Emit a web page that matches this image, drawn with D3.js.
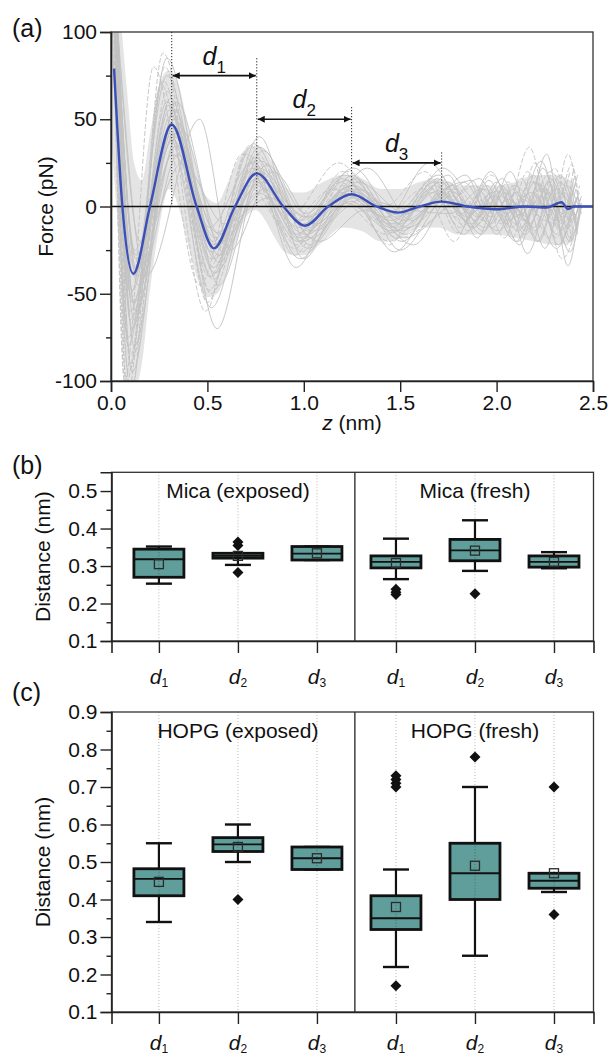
<!DOCTYPE html>
<html><head><meta charset="utf-8">
<script src="https://cdn.jsdelivr.net/npm/d3@7"></script>
<style>
body{margin:0;background:#fff}
svg{display:block}
text{font-family:"Liberation Sans",Arial,Helvetica,sans-serif;fill:#111}
</style>
</head><body>
<svg id="chart" width="610" height="1059"></svg>
<script>
// ---------------- DATA ----------------
// Panel (a): force curves
const zTicks = [0, 0.5, 1.0, 1.5, 2.0, 2.5];
const forceTicks = [-100, -50, 0, 50, 100];
const forceMinorTicks = [-75, -25, 25, 75];

const meanCurve = [[0.016,79],[0.059,0],[0.116,-38.5],[0.202,0],[0.315,47],[0.444,0],[0.534,-24],
  [0.643,0],[0.756,19],[0.894,0],[1.006,-11],[1.127,0],[1.248,7],[1.378,0],[1.49,-3.5],[1.60,0],
  [1.715,2.8],[1.85,0],[2.0,-1.6],[2.15,0],[2.26,-0.6],[2.337,2.4],[2.37,-1.5],[2.40,0],[2.5,0]];

// dense core of the individual curves (upper / lower bounds)
const cloudZ =     [0.00,0.04,0.08,0.12,0.16,0.20,0.25,0.30,0.35,0.40,0.45,0.50,0.55,0.60,0.65,0.70,0.75,0.80,0.85,0.90,0.95,1.00,1.10,1.20,1.30,1.40,1.50,1.60,1.70,1.80,1.90,2.00,2.10,2.20,2.30,2.40];
const cloudUpper = [110,110,70,25,15,40,70,78,70,45,18,5,2,12,25,33,35,32,22,12,8,8,14,18,16,10,10,14,16,12,12,12,14,18,18,14];
const cloudLower = [40,-20,-104,-105,-90,-50,-12,10,0,-22,-42,-52,-50,-38,-20,-6,-2,-8,-18,-26,-28,-28,-20,-12,-14,-20,-18,-12,-12,-16,-16,-16,-18,-20,-22,-20];

const grayCurves = [
  [[0,160],[0.10,-60],[0.31,62],[0.53,-35],[0.75,28],[0.98,-18],[1.24,12],[1.47,-10],[1.70,9],[1.85,-6],[1.98,8],[2.10,-10],[2.22,12],[2.33,-14],[2.42,5]],
  [[0.02,140],[0.12,-25],[0.33,40],[0.55,-15],[0.78,14],[1.02,-6],[1.27,10],[1.52,-8],[1.74,6],[1.88,-12],[2.02,6],[2.15,-16],[2.27,14],[2.38,-20],[2.44,0]],
  [[0,200],[0.09,-95],[0.28,80],[0.50,-55],[0.72,35],[0.95,-28],[1.20,20],[1.44,-22],[1.66,16],[1.82,-10],[1.95,12],[2.08,-18],[2.20,25],[2.34,-30],[2.43,-5]],
  [[0.03,110],[0.14,-45],[0.35,30],[0.57,-20],[0.80,10],[1.05,-14],[1.30,4],[1.55,-2],[1.76,-4],[1.92,10],[2.05,-4],[2.18,8],[2.30,-8],[2.40,10]],
  [[0.01,150],[0.11,-70],[0.30,55],[0.52,-40],[0.74,22],[0.97,-12],[1.22,15],[1.46,-15],[1.68,12],[1.84,-8],[1.96,15],[2.12,-22],[2.26,30],[2.37,-34],[2.43,0]],
  [[0.02,120],[0.13,-30],[0.37,25],[0.59,-10],[0.82,5],[1.08,-20],[1.32,-2],[1.57,-22],[1.78,8],[1.93,-14],[2.06,4],[2.19,-12],[2.31,10],[2.41,-6]],
  [[0,180],[0.08,-110],[0.26,70],[0.49,-60],[0.70,30],[0.93,-5],[1.18,25],[1.42,0],[1.63,20],[1.80,-15],[1.97,18],[2.14,-8],[2.28,20],[2.40,-15]],
  [[0.04,95],[0.15,-20],[0.34,35],[0.54,-30],[0.77,40],[1.00,-30],[1.25,18],[1.50,-25],[1.72,5],[1.87,15],[2.00,-16],[2.13,16],[2.25,-24],[2.36,12],[2.44,-4]],
  [[0.01,170],[0.12,-80],[0.32,45],[0.55,-70],[0.76,12],[0.99,-20],[1.26,5],[1.48,-12],[1.71,14],[1.86,-4],[1.99,6],[2.11,-14],[2.23,6],[2.33,-8],[2.41,14]],
  [[0.02,130],[0.10,-50],[0.29,75],[0.51,-12],[0.73,25],[0.96,-35],[1.19,8],[1.43,-6],[1.65,25],[1.81,2],[1.94,-12],[2.07,20],[2.21,-20],[2.32,8],[2.42,-8]],
  [[0,220],[0.07,-100],[0.22,80],[0.46,-45],[0.68,30],[0.90,-12],[1.15,10],[1.40,-8],[1.62,10],[1.78,-20],[1.91,4],[2.03,-10],[2.17,34],[2.29,-12],[2.39,24],[2.43,0]],
  [[0.05,80],[0.18,-40],[0.46,50],[0.62,-25],[0.84,20],[1.06,-10],[1.33,22],[1.56,-8],[1.77,12],[1.90,-6],[2.04,10],[2.16,-27],[2.30,16],[2.38,-18],[2.44,2]],
  [[0.01,190],[0.09,-120],[0.27,88],[0.52,-50],[0.74,18],[0.98,-8],[1.23,6],[1.49,-18],[1.73,-2],[1.89,12],[2.01,-8],[2.15,6],[2.27,-18],[2.37,30],[2.43,-2]],
  [[0.02,145],[0.11,-55],[0.33,50],[0.56,-28],[0.79,32],[1.03,-22],[1.28,14],[1.53,-4],[1.75,18],[1.90,-18],[2.02,12],[2.16,-6],[2.26,10],[2.36,-22],[2.43,4]],
  [[0.01,130],[0.12,-40],[0.31,52],[0.53,-22],[0.75,18],[0.99,-10],[1.24,9],[1.50,-5],[1.72,4],[1.87,-10],[2.00,9],[2.12,-5],[2.24,12],[2.34,-10],[2.42,6]],
  [[0.02,160],[0.10,-65],[0.30,42],[0.54,-38],[0.76,8],[1.01,-16],[1.25,3],[1.47,-26],[1.69,6],[1.83,14],[1.97,-6],[2.09,10],[2.20,-14],[2.33,18],[2.42,-12]],
  [[0.02,115],[0.12,-35],[0.32,38],[0.54,-18],[0.77,22],[1.00,-6],[1.26,12],[1.51,-14],[1.74,10],[1.88,-2],[2.01,-14],[2.14,4],[2.25,-8],[2.35,8],[2.42,-14]],
  [[0.01,135],[0.11,-48],[0.30,58],[0.52,-26],[0.74,15],[0.97,-20],[1.21,10],[1.45,-8],[1.67,8],[1.83,-16],[1.96,2],[2.10,-20],[2.22,4],[2.31,-16],[2.40,16]],
  [[0.03,105],[0.13,-28],[0.34,44],[0.56,-32],[0.78,26],[1.02,-14],[1.27,16],[1.52,-18],[1.76,2],[1.91,16],[2.05,-10],[2.18,14],[2.29,2],[2.38,-26],[2.44,0]],
  [[0,175],[0.10,-85],[0.29,66],[0.51,-48],[0.72,20],[0.95,-24],[1.19,14],[1.44,-20],[1.66,2],[1.80,10],[1.93,-8],[2.06,14],[2.19,-16],[2.30,22],[2.39,-20]],
  [[0,125],[0.09,-75],[0.29,60],[0.52,-30],[0.73,26],[0.96,-16],[1.20,16],[1.45,-12],[1.68,14],[1.82,-4],[1.94,10],[2.08,-12],[2.20,14],[2.32,-22],[2.41,10]],
  [[0.01,145],[0.13,-60],[0.33,55],[0.56,-45],[0.78,20],[1.02,-24],[1.27,6],[1.51,-20],[1.73,8],[1.87,-12],[2.00,14],[2.13,-12],[2.24,22],[2.34,-6],[2.43,8]],
  [[0.02,155],[0.10,-90],[0.31,48],[0.53,-42],[0.76,30],[0.99,-26],[1.23,20],[1.48,-6],[1.70,16],[1.85,-14],[1.99,-2],[2.11,-20],[2.23,10],[2.35,-16],[2.43,12]],
  [[0,210],[0.08,-100],[0.27,72],[0.50,-36],[0.71,12],[0.94,-18],[1.18,4],[1.43,-16],[1.64,12],[1.79,-6],[1.92,8],[2.04,-18],[2.16,20],[2.28,-10],[2.38,20]],
  [[0.03,120],[0.12,-55],[0.32,30],[0.55,-22],[0.77,34],[1.01,-4],[1.26,22],[1.50,-10],[1.72,22],[1.86,6],[1.98,-12],[2.10,8],[2.22,-20],[2.33,14],[2.42,-16]],
  [[0.01,165],[0.11,-95],[0.30,40],[0.52,-58],[0.75,16],[0.98,-30],[1.22,2],[1.46,-14],[1.69,4],[1.84,18],[1.97,-10],[2.09,12],[2.21,-4],[2.31,-24],[2.41,4]],
  [[0.02,135],[0.12,-65],[0.34,60],[0.56,-16],[0.79,16],[1.03,-12],[1.28,8],[1.53,-16],[1.75,14],[1.89,-8],[2.03,16],[2.15,-14],[2.27,8],[2.37,-12],[2.44,6]],
  [[0,190],[0.10,-105],[0.28,50],[0.51,-40],[0.73,22],[0.96,-22],[1.20,12],[1.44,-10],[1.67,10],[1.81,-12],[1.95,6],[2.07,-8],[2.19,18],[2.31,-18],[2.40,22]],
  [[0.03,100],[0.14,-40],[0.36,45],[0.58,-26],[0.81,24],[1.04,-18],[1.29,10],[1.54,-12],[1.77,6],[1.92,-16],[2.04,8],[2.17,-10],[2.28,16],[2.38,-8],[2.44,2]],
  [[0.01,150],[0.09,-80],[0.29,85],[0.53,-20],[0.74,36],[0.97,-8],[1.21,18],[1.47,-4],[1.70,18],[1.84,-2],[1.97,20],[2.10,-6],[2.23,26],[2.34,-4],[2.42,18]]
];
const grayDashed = [false,false,true,false,false,false,true,false,false,false,true,false,true,false,false,
                    false,false,false,false,true,false,false,true,true,false,false,false,true,false,false];

// annotation of the first peaks (d1, d2, d3)
const peakZ = [0.315, 0.756, 1.248, 1.715];
const guideTopF = [100, 85, 57, 31];
const guideBottomF = [0, 0, 7, 2.8];
const arrowF = [75, 50, 25];
const arrowSubs = ["1", "2", "3"];

// Panels (b) and (c): box statistics, order d1,d2,d3 (exposed), d1,d2,d3 (fresh)
const boxSubs = ["1","2","3","1","2","3"];

const micaTitles = ["Mica (exposed)", "Mica (fresh)"];
const micaTicks = [0.1, 0.2, 0.3, 0.4, 0.5];
const micaMinorTicks = [0.15, 0.25, 0.35, 0.45];
const micaLo     = [0.253, 0.303, 0.316, 0.265, 0.287, 0.294];
const micaQ1     = [0.270, 0.321, 0.316, 0.295, 0.314, 0.297];
const micaMedian = [0.318, 0.327, 0.333, 0.311, 0.342, 0.311];
const micaQ3     = [0.345, 0.334, 0.352, 0.327, 0.371, 0.327];
const micaHi     = [0.352, 0.334, 0.352, 0.373, 0.422, 0.337];
const micaMean   = [0.305, 0.327, 0.334, 0.308, 0.341, 0.311];
const micaOutliers = [[], [0.283, 0.355, 0.364], [], [0.224, 0.230, 0.238], [0.226], []];

const hopgTitles = ["HOPG (exposed)", "HOPG (fresh)"];
const hopgTicks = [0.1, 0.2, 0.3, 0.4, 0.5, 0.6, 0.7, 0.8, 0.9];
const hopgMinorTicks = [0.15, 0.25, 0.35, 0.45, 0.55, 0.65, 0.75, 0.85];
const hopgLo     = [0.34, 0.50, 0.48, 0.22, 0.25, 0.42];
const hopgQ1     = [0.41, 0.528, 0.48, 0.32, 0.40, 0.43];
const hopgMedian = [0.455, 0.547, 0.51, 0.35, 0.47, 0.45];
const hopgQ3     = [0.482, 0.565, 0.54, 0.41, 0.55, 0.47];
const hopgHi     = [0.55, 0.60, 0.54, 0.48, 0.70, 0.47];
const hopgMean   = [0.447, 0.54, 0.51, 0.38, 0.49, 0.47];
const hopgOutliers = [[], [0.40], [], [0.17, 0.70, 0.71, 0.72, 0.73], [0.78], [0.36, 0.70]];

// ---------------- DRAWING ----------------
const svg = d3.select("#chart");
const FS = 21;
const AXIS_COLOR = "#222";

// ===== Panel (a) =====
const xA = d3.scaleLinear().domain([0, 2.5]).range([111, 593]);
const yA = d3.scaleLinear().domain([-100, 100]).range([381, 32]);

const defs = svg.append("defs");
defs.append("clipPath").attr("id", "clipA")
  .append("rect").attr("x", xA(0)).attr("y", yA(100))
  .attr("width", xA(2.5) - xA(0)).attr("height", yA(-100) - yA(100));
defs.append("marker").attr("id", "arrowHead")
  .attr("viewBox", "0 0 10 10").attr("refX", 10).attr("refY", 5)
  .attr("markerWidth", 7).attr("markerHeight", 7).attr("markerUnits", "userSpaceOnUse")
  .attr("orient", "auto-start-reverse")
  .append("path").attr("d", "M0,0 L10,5 L0,10 z").attr("fill", "#111");

const gA = svg.append("g");
const plotA = gA.append("g").attr("clip-path", "url(#clipA)");
const lineA = d3.line().x(d => xA(d[0])).y(d => yA(d[1])).curve(d3.curveMonotoneX);

// faint dense core of the curve bundle
const areaA = d3.area().x((d, i) => xA(cloudZ[i]))
  .y0((d, i) => yA(cloudLower[i])).y1((d, i) => yA(cloudUpper[i]))
  .curve(d3.curveMonotoneX);
plotA.append("path").attr("d", areaA(cloudZ)).attr("fill", "#e4e4e4");

plotA.selectAll("path.gray").data(grayCurves).join("path")
  .attr("class", "gray")
  .attr("d", lineA)
  .attr("fill", "none")
  .attr("stroke", "#c2c2c2")
  .attr("stroke-width", 0.9)
  .attr("stroke-dasharray", (d, i) => grayDashed[i] ? "5,2" : null);

// zero line
plotA.append("line").attr("x1", xA(0)).attr("x2", xA(2.5))
  .attr("y1", yA(0)).attr("y2", yA(0)).attr("stroke", "#111").attr("stroke-width", 1.6);

// mean curve
plotA.append("path").attr("d", lineA(meanCurve))
  .attr("fill", "none").attr("stroke", "#3b4fb8").attr("stroke-width", 2.4);

// dotted guides
gA.selectAll("line.guide").data(peakZ).join("line").attr("class", "guide")
  .attr("x1", d => xA(d)).attr("x2", d => xA(d))
  .attr("y1", (d, i) => yA(guideTopF[i])).attr("y2", (d, i) => yA(guideBottomF[i]))
  .attr("stroke", "#222").attr("stroke-width", 1).attr("stroke-dasharray", "1.2,1.8");

// arrows
gA.selectAll("line.arrow").data(arrowF).join("line").attr("class", "arrow")
  .attr("x1", (d, i) => xA(peakZ[i]) + 1).attr("x2", (d, i) => xA(peakZ[i + 1]) - 1)
  .attr("y1", d => yA(d)).attr("y2", d => yA(d))
  .attr("stroke", "#111").attr("stroke-width", 1.6)
  .attr("marker-start", "url(#arrowHead)").attr("marker-end", "url(#arrowHead)");

const dLab = gA.selectAll("text.dlab").data(arrowF).join("text").attr("class", "dlab")
  .attr("x", (d, i) => (xA(peakZ[i]) + xA(peakZ[i + 1])) / 2)
  .attr("y", d => yA(d) - 11)
  .attr("text-anchor", "middle").attr("font-size", 25);
dLab.append("tspan").attr("font-style", "italic").text("d");
dLab.append("tspan").attr("font-size", 17).attr("dy", 8).text((d, i) => arrowSubs[i]);

// frame
gA.append("rect").attr("x", xA(0)).attr("y", yA(100))
  .attr("width", xA(2.5) - xA(0)).attr("height", yA(-100) - yA(100))
  .attr("fill", "none").attr("stroke", "#333").attr("stroke-width", 1.3);

// axes
const axA_y = gA.append("g").attr("transform", `translate(${xA(0)},0)`)
  .call(d3.axisLeft(yA).tickValues(forceTicks).tickSize(11).tickPadding(3).tickFormat(d => String(d)));
const axA_ym = gA.append("g").attr("transform", `translate(${xA(0)},0)`)
  .call(d3.axisLeft(yA).tickValues(forceMinorTicks).tickSize(5).tickFormat(""));
axA_ym.select(".domain").remove();
const axA_x = gA.append("g").attr("transform", `translate(0,${yA(-100)})`)
  .call(d3.axisBottom(xA).tickValues(zTicks).tickSize(11).tickPadding(3).tickFormat(d3.format(".1f")));

function styleAxis(g) {
  g.selectAll("text").attr("font-size", FS).attr("font-family", null).attr("fill", "#111");
  g.selectAll("line").attr("stroke", AXIS_COLOR).attr("stroke-width", 1.4);
  g.selectAll(".domain").attr("stroke", AXIS_COLOR).attr("stroke-width", 1.6);
}
[axA_y, axA_ym, axA_x].forEach(styleAxis);

gA.append("text").attr("transform", `translate(53,${(yA(100) + yA(-100)) / 2}) rotate(-90)`)
  .attr("text-anchor", "middle").attr("font-size", FS).text("Force (pN)");
const zl = gA.append("text").attr("x", (xA(0) + xA(2.5)) / 2).attr("y", 430)
  .attr("text-anchor", "middle").attr("font-size", FS);
zl.append("tspan").attr("font-style", "italic").text("z");
zl.append("tspan").text(" (nm)");

svg.append("text").attr("x", 12).attr("y", 37).attr("font-size", 25).text("(a)");

// ===== Panels (b), (c) =====
const xB = d3.scaleLinear().domain([-0.6, 5.5]).range([111.5, 593.5]);
const DIVIDER = 2.48;
const BOX_HALF = 25, CAP_HALF = 13;

function boxPanel(opts) {
  const { top, bottom, domain, ticks, minor, titles, titleY, lo, q1, med, q3, hi, mean, outliers, labelY, letter, letterY } = opts;
  const y = d3.scaleLinear().domain(domain).range([bottom, top]);
  const g = svg.append("g");
  const idx = d3.range(boxSubs.length);

  g.selectAll("line.grid").data(idx).join("line")
    .attr("x1", i => xB(i)).attr("x2", i => xB(i))
    .attr("y1", top).attr("y2", bottom)
    .attr("stroke", "#b8b8b8").attr("stroke-width", 1).attr("stroke-dasharray", "1,2");

  g.selectAll("line.wlo").data(idx).join("line")
    .attr("x1", i => xB(i)).attr("x2", i => xB(i))
    .attr("y1", i => y(lo[i])).attr("y2", i => y(q1[i]))
    .attr("stroke", "#111").attr("stroke-width", 2.2);
  g.selectAll("line.whi").data(idx).join("line")
    .attr("x1", i => xB(i)).attr("x2", i => xB(i))
    .attr("y1", i => y(hi[i])).attr("y2", i => y(q3[i]))
    .attr("stroke", "#111").attr("stroke-width", 2.2);
  g.selectAll("line.clo").data(idx).join("line")
    .attr("x1", i => xB(i) - CAP_HALF).attr("x2", i => xB(i) + CAP_HALF)
    .attr("y1", i => y(lo[i])).attr("y2", i => y(lo[i]))
    .attr("stroke", "#111").attr("stroke-width", 2.4);
  g.selectAll("line.chi").data(idx).join("line")
    .attr("x1", i => xB(i) - CAP_HALF).attr("x2", i => xB(i) + CAP_HALF)
    .attr("y1", i => y(hi[i])).attr("y2", i => y(hi[i]))
    .attr("stroke", "#111").attr("stroke-width", 2.4);

  g.selectAll("rect.boxf").data(idx).join("rect")
    .attr("x", i => xB(i) - BOX_HALF).attr("width", BOX_HALF * 2)
    .attr("y", i => y(q3[i])).attr("height", i => Math.max(0.5, y(q1[i]) - y(q3[i])))
    .attr("fill", "#5f9e9b");
  g.selectAll("line.gin").data(idx).join("line")
    .attr("x1", i => xB(i)).attr("x2", i => xB(i))
    .attr("y1", i => y(q3[i])).attr("y2", i => y(q1[i]))
    .attr("stroke", "#3d6e6c").attr("stroke-width", 1).attr("stroke-dasharray", "1,2");
  g.selectAll("rect.boxs").data(idx).join("rect")
    .attr("x", i => xB(i) - BOX_HALF).attr("width", BOX_HALF * 2)
    .attr("y", i => y(q3[i])).attr("height", i => Math.max(0.5, y(q1[i]) - y(q3[i])))
    .attr("fill", "none").attr("stroke", "#111").attr("stroke-width", 2.8);
  g.selectAll("line.med").data(idx).join("line")
    .attr("x1", i => xB(i) - BOX_HALF).attr("x2", i => xB(i) + BOX_HALF)
    .attr("y1", i => y(med[i])).attr("y2", i => y(med[i]))
    .attr("stroke", "#111").attr("stroke-width", 1.8);
  g.selectAll("rect.mean").data(idx).join("rect")
    .attr("x", i => xB(i) - 4.5).attr("y", i => y(mean[i]) - 4.5)
    .attr("width", 9).attr("height", 9)
    .attr("fill", "none").attr("stroke", "#2b2b2b").attr("stroke-width", 1.3);
  const outPts = [];
  outliers.forEach((arr, i) => arr.forEach(v => outPts.push([i, v])));
  g.selectAll("path.out").data(outPts).join("path")
    .attr("d", d => { const cx = xB(d[0]), cy = y(d[1]), r = 5.5;
      return `M${cx},${cy - r}L${cx + r},${cy}L${cx},${cy + r}L${cx - r},${cy}Z`; })
    .attr("fill", "#111");

  g.append("rect").attr("x", xB(-0.6)).attr("y", top)
    .attr("width", xB(5.5) - xB(-0.6)).attr("height", bottom - top)
    .attr("fill", "none").attr("stroke", "#333").attr("stroke-width", 1.3);
  g.append("line").attr("x1", xB(DIVIDER)).attr("x2", xB(DIVIDER))
    .attr("y1", top).attr("y2", bottom).attr("stroke", "#333").attr("stroke-width", 1.4);

  const ay = g.append("g").attr("transform", `translate(${xB(-0.6)},0)`)
    .call(d3.axisLeft(y).tickValues(ticks).tickSize(11).tickPadding(3).tickFormat(d3.format(".1f")));
  const aym = g.append("g").attr("transform", `translate(${xB(-0.6)},0)`)
    .call(d3.axisLeft(y).tickValues(minor).tickSize(5).tickFormat(""));
  aym.select(".domain").remove();
  const ax = g.append("g").attr("transform", `translate(0,${bottom})`)
    .call(d3.axisBottom(xB).tickValues(idx).tickSize(12).tickFormat(""));
  [ay, aym, ax].forEach(styleAxis);

  const cl = g.selectAll("text.cat").data(idx).join("text")
    .attr("x", i => xB(i)).attr("y", labelY).attr("text-anchor", "middle").attr("font-size", 21);
  cl.append("tspan").attr("font-style", "italic").text("d");
  cl.append("tspan").attr("font-size", 12).attr("dy", 3).text(i => boxSubs[i]);

  g.append("text").attr("x", xB(1)).attr("y", titleY).attr("text-anchor", "middle")
    .attr("font-size", FS).text(titles[0]);
  g.append("text").attr("x", xB(4)).attr("y", titleY).attr("text-anchor", "middle")
    .attr("font-size", FS).text(titles[1]);

  g.append("text").attr("transform", `translate(50,${(top + bottom) / 2}) rotate(-90)`)
    .attr("text-anchor", "middle").attr("font-size", FS).text("Distance (nm)");
  svg.append("text").attr("x", 12).attr("y", letterY).attr("font-size", 25).text(letter);
}

boxPanel({ top: 472.3, bottom: 641, domain: [0.1, 0.55], ticks: micaTicks, minor: micaMinorTicks,
  titles: micaTitles, titleY: 498, lo: micaLo, q1: micaQ1, med: micaMedian, q3: micaQ3, hi: micaHi,
  mean: micaMean, outliers: micaOutliers, labelY: 684, letter: "(b)", letterY: 474 });

boxPanel({ top: 712, bottom: 1012, domain: [0.1, 0.9], ticks: hopgTicks, minor: hopgMinorTicks,
  titles: hopgTitles, titleY: 738, lo: hopgLo, q1: hopgQ1, med: hopgMedian, q3: hopgQ3, hi: hopgHi,
  mean: hopgMean, outliers: hopgOutliers, labelY: 1050, letter: "(c)", letterY: 701 });
</script>
</body></html>
